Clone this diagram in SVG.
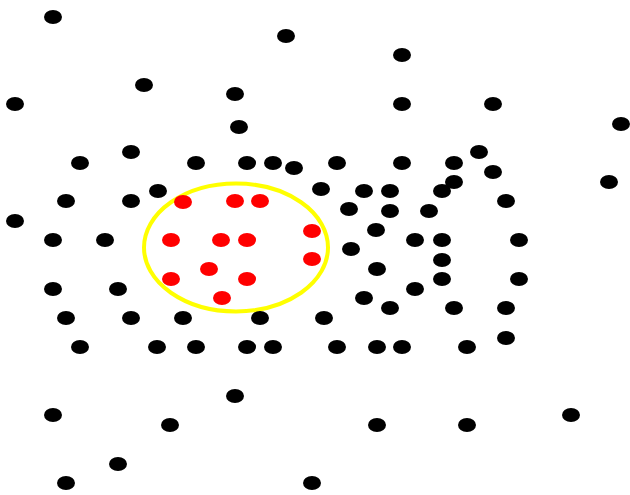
<svg xmlns="http://www.w3.org/2000/svg" xmlns:xlink="http://www.w3.org/1999/xlink" width="630" height="495" viewBox="0 0 630 495">
<style>
.b{fill:#000}
.r{fill:#ff0000}
.ring{fill:none;stroke:#ffff00;stroke-width:4}
</style>
<defs>
<ellipse id="d" cx="0" cy="0" rx="9" ry="7"/>
</defs>
<rect width="630" height="495" fill="#fff"/>
<g id="cluster">
<ellipse class="ring" cx="236" cy="247.5" rx="92" ry="64"/>
</g>
<g id="black-points" class="b">
<use href="#d" x="53" y="17"/>
<use href="#d" x="286" y="36"/>
<use href="#d" x="402" y="55"/>
<use href="#d" x="144" y="85"/>
<use href="#d" x="235" y="94"/>
<use href="#d" x="15" y="104"/>
<use href="#d" x="402" y="104"/>
<use href="#d" x="493" y="104"/>
<use href="#d" x="621" y="124"/>
<use href="#d" x="239" y="127"/>
<use href="#d" x="131" y="152"/>
<use href="#d" x="479" y="152"/>
<use href="#d" x="80" y="163"/>
<use href="#d" x="196" y="163"/>
<use href="#d" x="247" y="163"/>
<use href="#d" x="273" y="163"/>
<use href="#d" x="294" y="168"/>
<use href="#d" x="337" y="163"/>
<use href="#d" x="402" y="163"/>
<use href="#d" x="454" y="163"/>
<use href="#d" x="493" y="172"/>
<use href="#d" x="454" y="182"/>
<use href="#d" x="609" y="182"/>
<use href="#d" x="158" y="191"/>
<use href="#d" x="321" y="189"/>
<use href="#d" x="364" y="191"/>
<use href="#d" x="390" y="191"/>
<use href="#d" x="442" y="191"/>
<use href="#d" x="66" y="201"/>
<use href="#d" x="131" y="201"/>
<use href="#d" x="506" y="201"/>
<use href="#d" x="15" y="221"/>
<use href="#d" x="349" y="209"/>
<use href="#d" x="390" y="211"/>
<use href="#d" x="429" y="211"/>
<use href="#d" x="376" y="230"/>
<use href="#d" x="53" y="240"/>
<use href="#d" x="105" y="240"/>
<use href="#d" x="415" y="240"/>
<use href="#d" x="442" y="240"/>
<use href="#d" x="519" y="240"/>
<use href="#d" x="351" y="249"/>
<use href="#d" x="442" y="260"/>
<use href="#d" x="377" y="269"/>
<use href="#d" x="442" y="279"/>
<use href="#d" x="519" y="279"/>
<use href="#d" x="53" y="289"/>
<use href="#d" x="118" y="289"/>
<use href="#d" x="415" y="289"/>
<use href="#d" x="364" y="298"/>
<use href="#d" x="390" y="308"/>
<use href="#d" x="454" y="308"/>
<use href="#d" x="506" y="308"/>
<use href="#d" x="66" y="318"/>
<use href="#d" x="131" y="318"/>
<use href="#d" x="183" y="318"/>
<use href="#d" x="260" y="318"/>
<use href="#d" x="324" y="318"/>
<use href="#d" x="506" y="338"/>
<use href="#d" x="80" y="347"/>
<use href="#d" x="157" y="347"/>
<use href="#d" x="196" y="347"/>
<use href="#d" x="247" y="347"/>
<use href="#d" x="273" y="347"/>
<use href="#d" x="337" y="347"/>
<use href="#d" x="377" y="347"/>
<use href="#d" x="402" y="347"/>
<use href="#d" x="467" y="347"/>
<use href="#d" x="235" y="396"/>
<use href="#d" x="53" y="415"/>
<use href="#d" x="571" y="415"/>
<use href="#d" x="170" y="425"/>
<use href="#d" x="377" y="425"/>
<use href="#d" x="467" y="425"/>
<use href="#d" x="118" y="464"/>
<use href="#d" x="66" y="483"/>
<use href="#d" x="312" y="483"/>
</g>
<g id="red-points" class="r">
<use href="#d" x="183" y="202"/>
<use href="#d" x="235" y="201"/>
<use href="#d" x="260" y="201"/>
<use href="#d" x="171" y="240"/>
<use href="#d" x="221" y="240"/>
<use href="#d" x="247" y="240"/>
<use href="#d" x="312" y="231"/>
<use href="#d" x="312" y="259"/>
<use href="#d" x="209" y="269"/>
<use href="#d" x="171" y="279"/>
<use href="#d" x="247" y="279"/>
<use href="#d" x="222" y="298"/>
</g>
</svg>
